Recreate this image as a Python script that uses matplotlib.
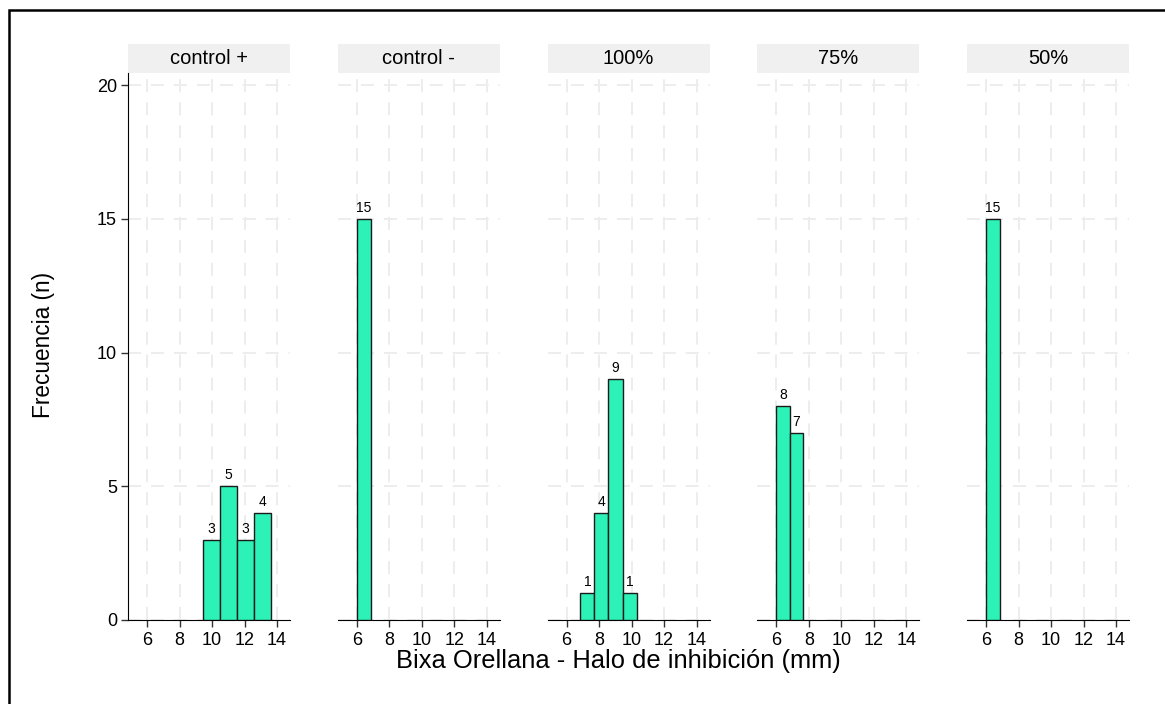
import matplotlib.pyplot as plt
from matplotlib.patches import Rectangle

plt.rcParams['font.family'] = ['Liberation Sans', 'DejaVu Sans']

# Datos por grupo: bordes de los intervalos y frecuencias
groups = ['control +', 'control -', '100%', '75%', '50%']
edges = [
    [9.45, 10.49, 11.53, 12.56, 13.6],
    [6.0, 6.86],
    [6.86, 7.72, 8.58, 9.45, 10.31],
    [6.0, 6.82, 7.64],
    [6.0, 6.86],
]
counts = [
    [3, 5, 3, 4],
    [15],
    [1, 4, 9, 1],
    [8, 7],
    [15],
]
xticks = [6, 8, 10, 12, 14]
yticks = [0, 5, 10, 15, 20]

W, H = 1165, 704
fig = plt.figure(figsize=(W / 100, H / 100), dpi=100)

# borde exterior
fig.patches.append(Rectangle((9 / W, -0.05), 1.1, 1 - 10 / H + 0.05, transform=fig.transFigure,
                             fill=False, edgecolor='black', linewidth=1.8))

ax_w = 162 / W
ax_h = (620 - 73) / H
bottom = 1 - 620 / H
for i, g in enumerate(groups):
    left = (128 + i * 209.75) / W
    ax = fig.add_axes([left, bottom, ax_w, ax_h])
    e = edges[i]
    c = counts[i]
    lefts = e[:-1]
    widths = [e[k + 1] - e[k] for k in range(len(c))]
    ax.bar(lefts, c, width=widths, align='edge', color='#2cf2b8', edgecolor='#1a1a1a',
           linewidth=1.0, zorder=3)
    for x0, w, n in zip(lefts, widths, c):
        ax.annotate(str(n), (x0 + w / 2, n), xytext=(0, 3), textcoords='offset points',
                    ha='center', va='bottom', fontsize=10, color='black', zorder=4)
    ax.set_xlim(4.83, 14.8)
    ax.set_ylim(0, 20.45)
    ax.set_xticks(xticks)
    ax.set_yticks(yticks)
    ax.grid(True, color='#ededed', linestyle=(0, (6.7, 5.1)), linewidth=1.4, zorder=0)
    for s in ['top', 'right']:
        ax.spines[s].set_visible(False)
    ax.spines['bottom'].set_color('black')
    ax.tick_params(axis='x', length=5, width=1, color='#333333', labelsize=13, pad=3.5)
    if i == 0:
        ax.spines['left'].set_color('black')
        ax.tick_params(axis='y', length=5, width=1, color='#333333', labelsize=13, pad=3)
    else:
        ax.spines['left'].set_visible(False)
        ax.tick_params(axis='y', left=False, labelleft=False)
    # franja del título
    ax.add_patch(Rectangle((0, 1.0), 1, 29 / 547, transform=ax.transAxes, clip_on=False,
                           facecolor='#f0f0f0', edgecolor='none'))
    ax.text(0.5, 1 + 14.5 / 547, g, transform=ax.transAxes, ha='center', va='center',
            fontsize=14.5, color='black')

fig.text(44 / W, 1 - 345 / H, 'Frecuencia (n)', rotation=90, ha='center', va='center', fontsize=16.3)
fig.text(618 / W, 1 - 661 / H, 'Bixa Orellana - Halo de inhibición (mm)', ha='center', va='center',
         fontsize=18.4)

fig.savefig('out.png', dpi=100)
